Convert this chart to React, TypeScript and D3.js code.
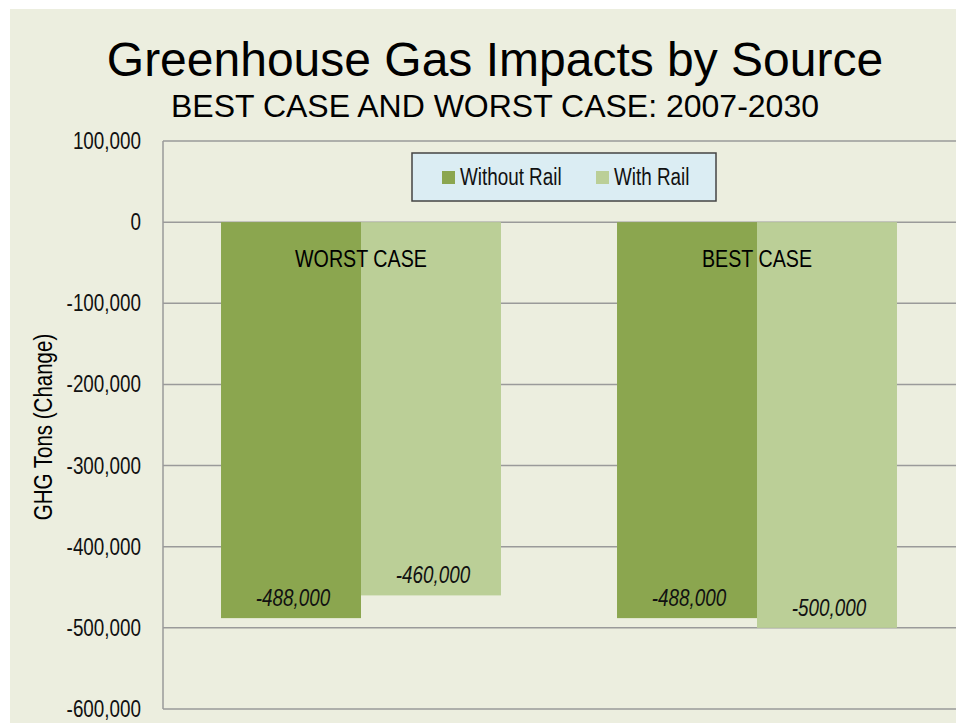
import React from "react";
import * as d3 from "d3";

const categories = ["WORST CASE", "BEST CASE"];
const seriesNames = ["Without Rail", "With Rail"];
const withoutRail = [-488000, -488000];
const withRail = [-460000, -500000];
const yTicks = [100000, 0, -100000, -200000, -300000, -400000, -500000, -600000];
const title = "Greenhouse Gas Impacts by Source";
const subtitle = "BEST CASE AND WORST CASE: 2007-2030";
const yAxisTitle = "GHG Tons (Change)";

const colors = ["#8BA64F", "#BBCF97"];
const SANS = "'Liberation Sans', Arial, sans-serif";
const NARROW_SCALE = 0.82;

function NText(props: {
  x: number; y: number; rotate?: number; anchor?: "start" | "middle" | "end";
  size: number; italic?: boolean; fill?: string; children: React.ReactNode;
}) {
  const { x, y, rotate = 0, anchor = "start", size, italic, fill = "#111", children } = props;
  return (
    <text
      transform={`translate(${x},${y}) rotate(${rotate}) scale(${NARROW_SCALE},1)`}
      textAnchor={anchor}
      fontFamily={SANS}
      fontSize={size}
      fontStyle={italic ? "italic" : "normal"}
      fill={fill}
    >
      {children}
    </text>
  );
}

export default function App() {
  const W = 956, H = 723;
  const plot = { left: 163, right: 955, top: 141, bottom: 709 };
  const y = d3.scaleLinear().domain([-600000, 100000]).range([plot.bottom, plot.top]);
  const x0 = d3.scaleBand<string>().domain(categories).range([plot.left, plot.right]).paddingInner(0).paddingOuter(0);
  const bw = x0.bandwidth();
  const x1 = d3.scaleBand<string>().domain(seriesNames).range([bw * 0.1465, bw * 0.8535]).padding(0);
  const fmt = (v: number) => d3.format(",")(v).replace("\u2212", "-");
  const series = [withoutRail, withRail];

  return (
    <div style={{ position: "absolute", left: 0, top: 0 }}>
      <svg width={W} height={H} style={{ display: "block" }}>
        <rect x={0} y={0} width={W} height={H} fill="#ffffff" />
        <rect x={10} y={9} width={W - 10} height={H - 9} fill="#ECEEDF" />
        <text x={495} y={76} textAnchor="middle" fontFamily={SANS} fontSize={48} fill="#000">{title}</text>
        <text x={495} y={117} textAnchor="middle" fontFamily={SANS} fontSize={32} fill="#000">{subtitle}</text>

        {yTicks.map((t) => (
          <g key={t}>
            <line x1={plot.left} x2={plot.right + 1} y1={y(t)} y2={y(t)} stroke="#9A9A9A" strokeWidth={1.5} />
            <NText x={141} y={y(t) + 8} anchor="end" size={23}>{fmt(t)}</NText>
          </g>
        ))}
        <line x1={plot.left} x2={plot.left} y1={plot.top} y2={plot.bottom} stroke="#9A9A9A" strokeWidth={1.5} />

        {categories.map((c, ci) => (
          <g key={c}>
            {series.map((s, si) => {
              const v = s[ci];
              const bx = (x0(c) ?? 0) + (x1(seriesNames[si]) ?? 0);
              return (
                <rect key={si} x={bx} y={y(0)} width={x1.bandwidth()} height={y(v) - y(0)} fill={colors[si]} />
              );
            })}
          </g>
        ))}
        {categories.map((c, ci) => (
          <g key={c + "l"}>
            {series.map((s, si) => {
              const v = s[ci];
              const bx = (x0(c) ?? 0) + (x1(seriesNames[si]) ?? 0);
              return (
                <NText key={si} x={bx + x1.bandwidth() / 2 + 2} y={y(v) - 12} anchor="middle" size={23} italic>{fmt(v)}</NText>
              );
            })}
            <NText x={(x0(c) ?? 0) + bw / 2} y={267} anchor="middle" size={24} fill="#000">{c}</NText>
          </g>
        ))}

        <NText x={52} y={427} rotate={-90} anchor="middle" size={25} fill="#000">{yAxisTitle}</NText>

        <rect x={412} y={153} width={304} height={48} fill="#DBEDF3" stroke="#444" strokeWidth={1.5} />
        {seriesNames.map((n, i) => {
          const lx = [442, 596][i];
          return (
            <g key={n}>
              <rect x={lx} y={171} width={13} height={13} fill={colors[i]} />
              <NText x={lx + 18} y={185} size={23}>{n}</NText>
            </g>
          );
        })}
      </svg>
    </div>
  );
}
